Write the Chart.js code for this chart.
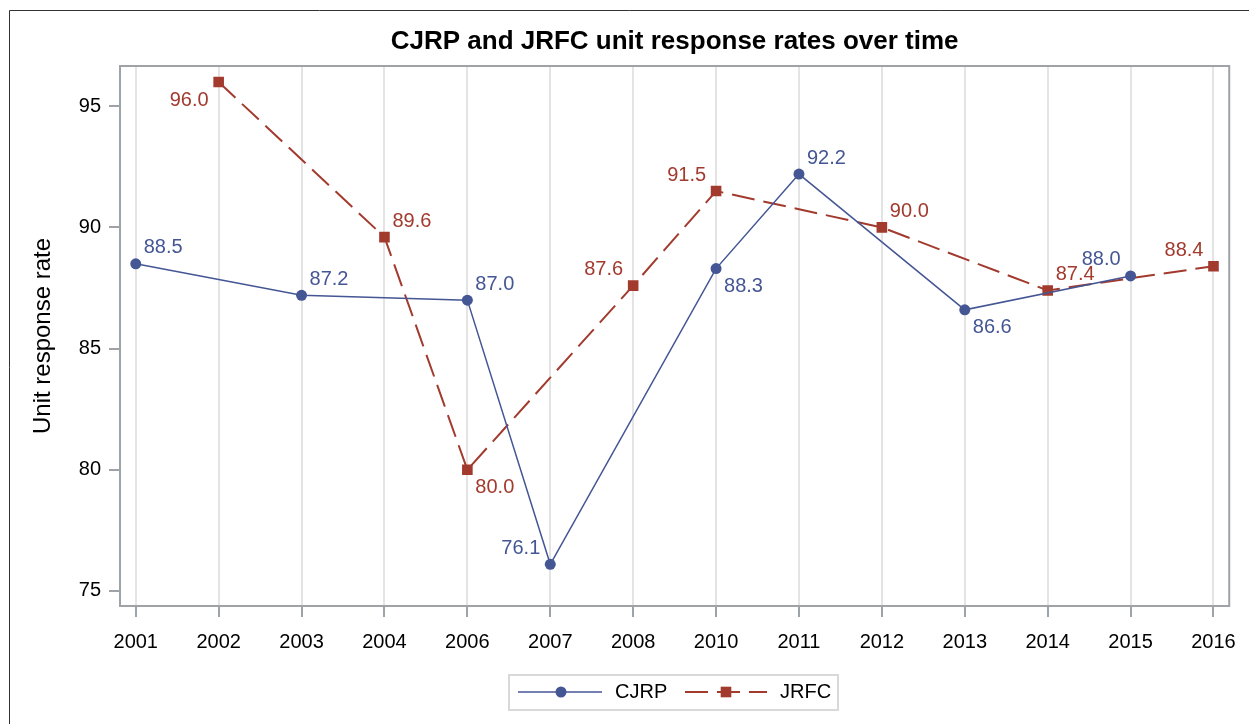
<!DOCTYPE html>
<html lang="en">
<head>
<meta charset="UTF-8">
<title>CJRP and JRFC unit response rates over time</title>
<script src="https://cdn.jsdelivr.net/npm/chart.js@4.4.1/dist/chart.umd.min.js"></script>
<style>
  html, body { margin: 0; padding: 0; background: #fff; }
  #wrap { width: 1249px; height: 724px; position: relative; }
</style>
</head>
<body>
<div id="wrap"><canvas id="chart"></canvas></div>
<script>
// data (2005 and 2009 are not on the axis)
const years = ["2001", "2002", "2003", "2004", "2006", "2007", "2008",
  "2010", "2011", "2012", "2013", "2014", "2015", "2016"];
const cjrpValues = [88.5, null, 87.2, null, 87.0, 76.1, null, 88.3, 92.2, null, 86.6, null, 88.0, null];
const jrfcValues = [null, 96.0, null, 89.6, 80.0, null, 87.6, 91.5, null, 90.0, null, 87.4, null, 88.4];
const yTicks = [75, 80, 85, 90, 95];

// where each value label sits relative to its marker
const cjrpLabelPos = ["ne", null, "ne", null, "ne", "nw", null, "se", "ne", null, "se", null, "nw", null];
const jrfcLabelPos = [null, "sw", null, "ne", "se", null, "nw", "nw", null, "ne", null, "ne", null, "nw"];

const chartTitle = "CJRP and JRFC unit response rates over time";

const BLUE = "#445694";
const RED = "#a23a2e";
const AXIS = "#9ea3a8";
const FONT = "'Liberation Sans', Arial, Helvetica, sans-serif";

function toPoints(values) {
  return values.map((v, i) => ({ x: i, y: v }));
}

// value labels next to markers
const valueLabels = {
  id: "valueLabels",
  afterDatasetsDraw(chart) {
    const ctx = chart.ctx;
    ctx.save();
    ctx.font = "20px " + FONT;
    ctx.textBaseline = "middle";
    chart.data.datasets.forEach((ds, di) => {
      const meta = chart.getDatasetMeta(di);
      meta.data.forEach((pt, k) => {
        const v = ds.data[k].y;
        const pos = ds.labelPos[k];
        if (v === null || !pos) return;
        const east = pos.indexOf("e") >= 0;
        const north = pos.indexOf("n") >= 0;
        ctx.fillStyle = ds.borderColor;
        ctx.textAlign = east ? "left" : "right";
        ctx.fillText(v.toFixed(1), pt.x + (east ? 8 : -10), pt.y + (north ? -16 : 18));
      });
    });
    ctx.restore();
  },
};

// title over the plot, frame round the plot, outer border, legend
const decorations = {
  id: "decorations",
  afterDraw(chart) {
    const ctx = chart.ctx;
    const a = chart.chartArea;
    ctx.save();

    ctx.fillStyle = "#000";
    ctx.font = "bold 26px " + FONT;
    ctx.textAlign = "center";
    ctx.textBaseline = "middle";
    ctx.fillText(chartTitle, (a.left + a.right) / 2, 42);

    ctx.strokeStyle = AXIS;
    ctx.lineWidth = 2;
    ctx.strokeRect(a.left, a.top, a.right - a.left, a.bottom - a.top);

    ctx.strokeStyle = "#333";
    ctx.lineWidth = 1;
    ctx.beginPath();
    ctx.moveTo(9.5, 724);
    ctx.lineTo(9.5, 10.5);
    ctx.lineTo(1249, 10.5);
    ctx.stroke();

    // legend
    const ly = 692;
    ctx.strokeStyle = "#d9d9d9";
    ctx.lineWidth = 2;
    ctx.strokeRect(509, 675, 329, 35);

    ctx.strokeStyle = BLUE;
    ctx.lineWidth = 1.5;
    ctx.beginPath();
    ctx.moveTo(518, ly);
    ctx.lineTo(602, ly);
    ctx.stroke();
    ctx.fillStyle = BLUE;
    ctx.beginPath();
    ctx.arc(561, ly, 5.5, 0, Math.PI * 2);
    ctx.fill();

    ctx.strokeStyle = RED;
    ctx.lineWidth = 2;
    ctx.setLineDash([23, 9]);
    ctx.beginPath();
    ctx.moveTo(685, ly);
    ctx.lineTo(767, ly);
    ctx.stroke();
    ctx.setLineDash([]);
    ctx.fillStyle = RED;
    ctx.fillRect(726 - 5.3, ly - 5.3, 10.6, 10.6);

    ctx.fillStyle = "#000";
    ctx.font = "20px " + FONT;
    ctx.textAlign = "left";
    ctx.textBaseline = "middle";
    ctx.fillText("CJRP", 615, ly);
    ctx.fillText("JRFC", 780, ly);
    ctx.restore();
  },
};

const ctx = document.getElementById("chart").getContext("2d");
new Chart(ctx, {
  type: "line",
  data: {
    datasets: [
      {
        label: "CJRP",
        data: toPoints(cjrpValues),
        labelPos: cjrpLabelPos,
        borderColor: BLUE,
        backgroundColor: BLUE,
        borderWidth: 1.5,
        pointStyle: "circle",
        pointRadius: 5.5,
        pointBorderWidth: 0,
        spanGaps: true,
        tension: 0,
      },
      {
        label: "JRFC",
        data: toPoints(jrfcValues),
        labelPos: jrfcLabelPos,
        borderColor: RED,
        backgroundColor: RED,
        borderWidth: 2,
        borderDash: [23, 9],
        pointStyle: "rect",
        pointRadius: 7.5,
        pointBorderWidth: 0,
        spanGaps: true,
        tension: 0,
      },
    ],
  },
  options: {
    responsive: true,
    maintainAspectRatio: false,
    animation: false,
    events: [],
    layout: { padding: { left: 0, top: 66, right: 19, bottom: 68 } },
    plugins: {
      legend: { display: false },
      tooltip: { enabled: false },
      title: { display: false },
    },
    scales: {
      x: {
        type: "linear",
        min: -0.19,
        max: 13.19,
        afterFit(scale) { scale.height = 50; },
        afterBuildTicks(scale) {
          scale.ticks = years.map((_, i) => ({ value: i }));
        },
        ticks: {
          autoSkip: false,
          maxRotation: 0,
          padding: 13,
          color: "#000",
          font: { family: FONT, size: 20 },
          callback: (v) => years[v],
        },
        grid: {
          color: "#e4e4e4",
          lineWidth: 2,
          tickColor: AXIS,
          tickWidth: 2,
          tickLength: 11,
        },
        border: { color: AXIS, width: 2 },
      },
      y: {
        min: 74.38,
        max: 96.66,
        afterFit(scale) { scale.width = 120; },
        afterBuildTicks(scale) {
          scale.ticks = yTicks.map((v) => ({ value: v }));
        },
        ticks: {
          padding: 8,
          color: "#000",
          font: { family: FONT, size: 20 },
        },
        grid: {
          drawOnChartArea: false,
          color: AXIS,
          lineWidth: 2,
          tickLength: 11,
        },
        border: { color: AXIS, width: 2 },
        title: {
          display: true,
          text: "Unit response rate",
          color: "#000",
          font: { family: FONT, size: 24 },
          padding: { top: 28.6, bottom: 0 },
        },
      },
    },
  },
  plugins: [valueLabels, decorations],
});
</script>
</body>
</html>
